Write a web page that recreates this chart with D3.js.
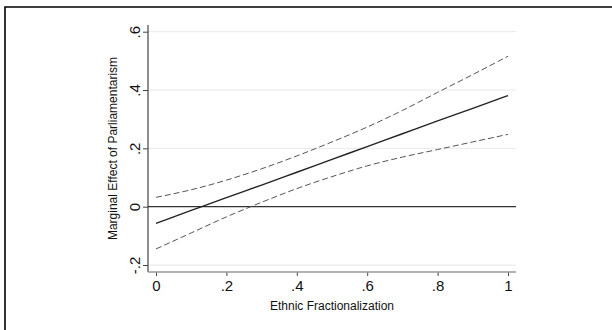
<!DOCTYPE html>
<html>
<head>
<meta charset="utf-8">
<script src="https://cdn.jsdelivr.net/npm/d3@7"></script>
<style>
  html, body { margin: 0; padding: 0; background: #fff; }
  svg { display: block; font-family: "Liberation Sans", Arial, sans-serif; }
</style>
</head>
<body>
<div id="chart"></div>
<script>
// data
const fract = [0, 0.1, 0.2, 0.3, 0.4, 0.5, 0.6, 0.7, 0.8, 0.9, 1];
const effect = [-0.057, -0.013, 0.031, 0.074, 0.118, 0.162, 0.206, 0.25, 0.294, 0.337, 0.381];
const upper = [0.032, 0.058, 0.091, 0.13, 0.174, 0.222, 0.273, 0.33, 0.392, 0.453, 0.516];
const lower = [-0.145, -0.09, -0.035, 0.015, 0.062, 0.103, 0.14, 0.17, 0.196, 0.222, 0.248];
const xTicks = [0, 0.2, 0.4, 0.6, 0.8, 1];
const yTicks = [-0.2, 0, 0.2, 0.4, 0.6];

const width = 612, height = 330;
const plot = { left: 148, right: 516, top: 25, bottom: 272 };

const fmt = d => d === 0 ? "0" : d === 1 ? "1" : String(d).replace("0.", ".");

const svg = d3.select("#chart").append("svg")
  .attr("width", width)
  .attr("height", height);

// outer frame (top and left edges only show)
svg.append("path")
  .attr("d", `M5,${height} L5,7 L${width},7`)
  .attr("fill", "none")
  .attr("stroke", "#000")
  .attr("stroke-width", 1.6);

const x = d3.scaleLinear().domain([0, 1]).range([156, 508]);
const y = d3.scaleLinear().domain([-0.2, 0.6]).range([265, 31.7]);

// gridlines
svg.append("g")
  .selectAll("line")
  .data(yTicks.filter(d => d !== 0))
  .join("line")
  .attr("x1", plot.left)
  .attr("x2", plot.right)
  .attr("y1", d => y(d))
  .attr("y2", d => y(d))
  .attr("stroke", "#e8e8e8")
  .attr("stroke-width", 1);

// y axis
const yAxis = d3.axisLeft(y).tickValues(yTicks).tickFormat(fmt).tickSize(5).tickPadding(6);
const gy = svg.append("g")
  .attr("transform", `translate(${plot.left},0)`)
  .call(yAxis);
gy.select(".domain").remove();
gy.append("line")
  .attr("x1", 0).attr("x2", 0)
  .attr("y1", plot.top).attr("y2", plot.bottom)
  .attr("stroke", "#444").attr("stroke-width", 1.2);
gy.selectAll(".tick line").attr("stroke", "#444");
gy.selectAll(".tick text")
  .attr("x", null).attr("dy", null)
  .attr("text-anchor", "middle")
  .attr("transform", d => `translate(-13,0) rotate(-90)`)
  .attr("dy", "0.35em")
  .style("font-size", "15px")
  .attr("fill", "#111");

// x axis
const xAxis = d3.axisBottom(x).tickValues(xTicks).tickFormat(fmt).tickSize(4).tickPadding(4);
const gx = svg.append("g")
  .attr("transform", `translate(0,${plot.bottom})`)
  .call(xAxis);
gx.select(".domain").remove();
gx.append("line")
  .attr("x1", plot.left).attr("x2", plot.right)
  .attr("y1", 0).attr("y2", 0)
  .attr("stroke", "#999").attr("stroke-width", 1.6);
gx.selectAll(".tick line").attr("stroke", "#444");
gx.selectAll(".tick text")
  .style("font-size", "15px")
  .attr("fill", "#111");

// zero reference line
svg.append("line")
  .attr("x1", plot.left).attr("x2", plot.right)
  .attr("y1", y(0)).attr("y2", y(0))
  .attr("stroke", "#333").attr("stroke-width", 1.2);

// lines
const line = vals => d3.line()
  .x((d, i) => x(fract[i]))
  .y(d => y(d))
  .curve(d3.curveMonotoneX)(vals);

svg.append("path").attr("d", line(upper))
  .attr("fill", "none").attr("stroke", "#555").attr("stroke-width", 1)
  .attr("stroke-dasharray", "6,3");
svg.append("path").attr("d", line(lower))
  .attr("fill", "none").attr("stroke", "#555").attr("stroke-width", 1)
  .attr("stroke-dasharray", "6,3");
svg.append("path").attr("d", line(effect))
  .attr("fill", "none").attr("stroke", "#222").attr("stroke-width", 1.4);

// axis titles
svg.append("text")
  .attr("x", (plot.left + plot.right) / 2)
  .attr("y", 310)
  .attr("text-anchor", "middle")
  .style("font-size", "12px")
  .attr("fill", "#111")
  .text("Ethnic Fractionalization");

svg.append("text")
  .attr("transform", `translate(117,${(plot.top + plot.bottom) / 2}) rotate(-90)`)
  .attr("text-anchor", "middle")
  .style("font-size", "12px")
  .attr("fill", "#111")
  .text("Marginal Effect of Parliamentarism");
</script>
</body>
</html>
